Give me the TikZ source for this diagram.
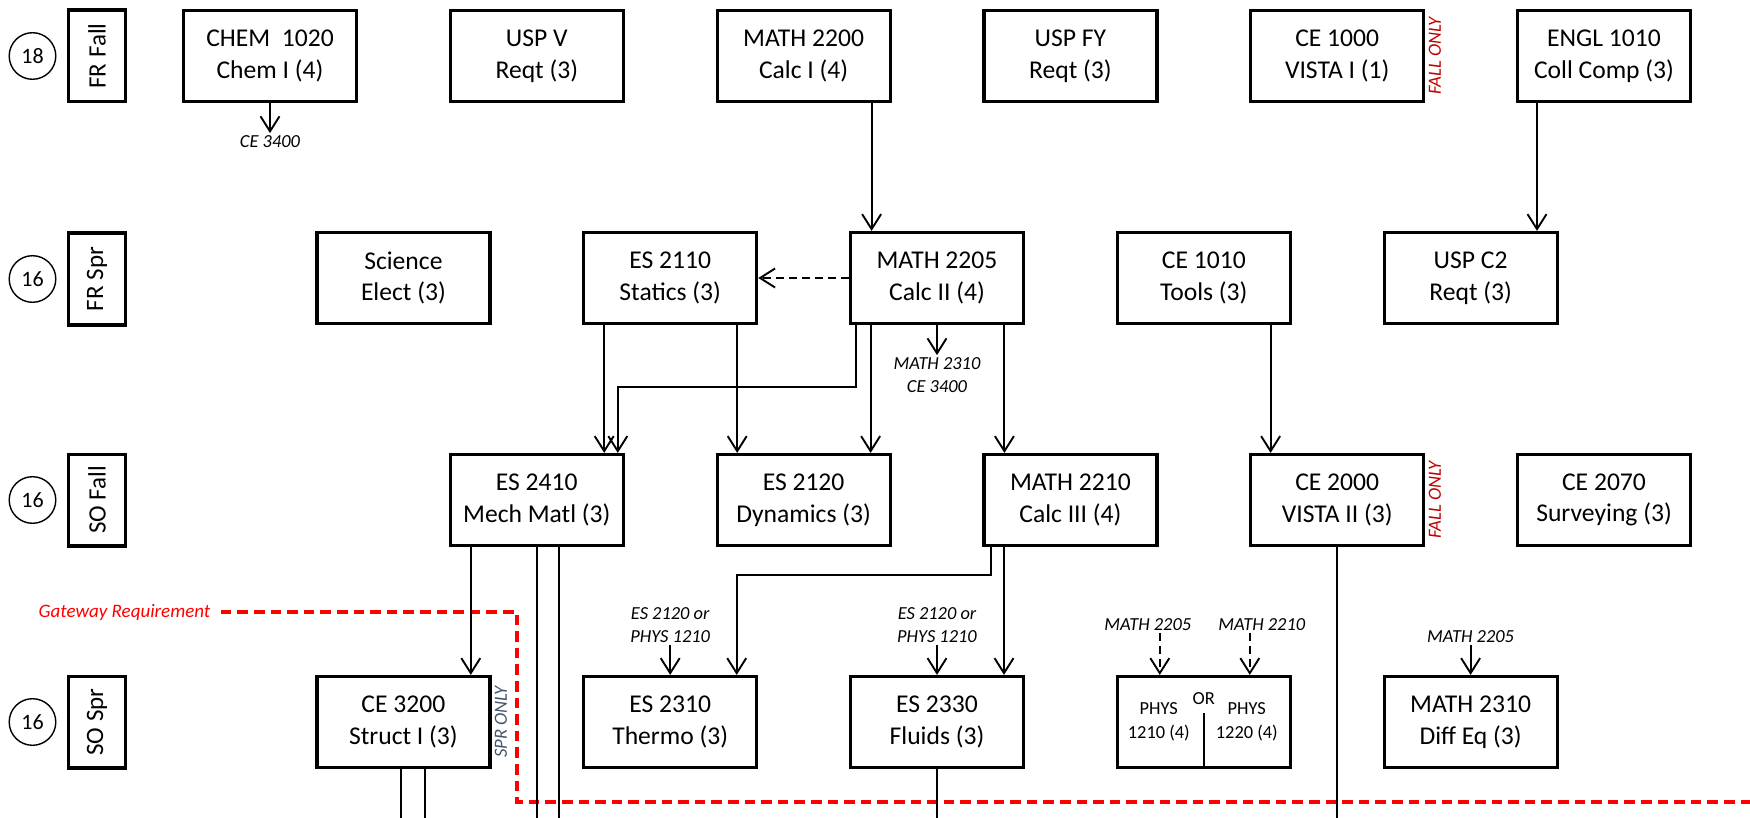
\documentclass[tikz,border=0pt]{standalone}
\usepackage{fontspec}
\setmainfont{Carlito}
\usetikzlibrary{arrows.meta,positioning}
\definecolor{fallred}{RGB}{192,0,0}
\definecolor{sprblue}{RGB}{68,84,106}
\definecolor{gatered}{RGB}{255,0,0}

\begin{document}
\begin{tikzpicture}[
    x=0.5pt, y=-0.5pt,
    node distance=63.9pt and 45.3pt,
    course/.style={rectangle, draw, line width=1.6pt, minimum width=86.5pt, minimum height=45.5pt, align=center, inner sep=0pt, font=\fontsize{12.8}{15.8}\selectfont},
    term/.style={rectangle, draw, line width=1.6pt, rotate=90, minimum width=45.9pt, minimum height=28.4pt, inner sep=0pt, font=\fontsize{12.5}{15}\selectfont},
    credit/.style={circle, draw, line width=0.7pt, minimum size=23.3pt, inner sep=0pt, font=\fontsize{11}{13}\selectfont},
    note/.style={align=center, inner sep=1pt, font=\fontsize{9.2}{11.5}\selectfont\itshape},
    physnote/.style={align=center, inner sep=1pt, font=\fontsize{9.2}{12}\selectfont},
    only/.style={rotate=90, anchor=north, inner sep=1.5pt, font=\fontsize{9.3}{11}\selectfont\itshape},
    gatenote/.style={inner sep=5pt, text=gatered, font=\fontsize{9.5}{11}\selectfont\itshape},
    arrow/.style={-{Straight Barb[length=7.5pt,width=9.5pt]}, line width=0.95pt},
    dasharrow/.style={arrow, dash pattern=on 3.8pt off 2.7pt},
    line/.style={line width=0.95pt},
    gateway/.style={gatered, line width=2pt, dash pattern=on 5.3pt off 3pt}
]
\useasboundingbox (0,0) rectangle (1750,818);
\coordinate (bottom) at (0,818);

% FR Fall
\node[credit] (crI) at (32.5,56) {18};
\node[term] (tmI) at (97,56) {FR Fall};
\node[course] (chem) at (270,56) {CHEM~~1020\\Chem I (4)};
\node[course, right=of chem] (uspv) {USP V\\Reqt (3)};
\node[course, right=of uspv] (calcI) {MATH 2200\\Calc I (4)};
\node[course, right=of calcI] (uspfy) {USP FY\\Reqt (3)};
\node[course, right=of uspfy] (vistaI) {CE 1000\\VISTA I (1)};
\node[course, right=of vistaI] (engl) {ENGL 1010\\Coll Comp (3)};
\node[only, text=fallred] (fallI) at (vistaI.east) {FALL ONLY};

% FR Spr
\node[credit] (crII) at (32.5,279) {16};
\node[term] (tmII) at (97,279) {FR Spr};
\node[course, below=of chem, xshift=66.7pt] (sci) {Science\\Elect (3)};
\node[course, right=of sci] (statics) {ES 2110\\Statics (3)};
\node[course, right=of statics] (calcII) {MATH 2205\\Calc II (4)};
\node[course, right=of calcII] (tools) {CE 1010\\Tools (3)};
\node[course, right=of tools] (uspc) {USP C2\\Reqt (3)};

% SO Fall
\node[credit] (crIII) at (32.5,500) {16};
\node[term] (tmIII) at (97,500) {SO Fall};
\node[course, below=of sci, xshift=66.7pt] (mech) {ES 2410\\Mech Matl (3)};
\node[course, right=of mech] (dyn) {ES 2120\\Dynamics (3)};
\node[course, right=of dyn] (calcIII) {MATH 2210\\Calc III (4)};
\node[course, right=of calcIII] (vistaII) {CE 2000\\VISTA II (3)};
\node[course, right=of vistaII] (survey) {CE 2070\\Surveying (3)};
\node[only, text=fallred] (fallII) at (vistaII.east) {FALL ONLY};

% SO Spr
\node[credit] (crIV) at (32.5,722) {16};
\node[term] (tmIV) at (97,722) {SO Spr};
\node[course, below=of mech, xshift=-66.7pt] (struct) {CE 3200\\Struct I (3)};
\node[course, right=of struct] (thermo) {ES 2310\\Thermo (3)};
\node[course, right=of thermo] (fluids) {ES 2330\\Fluids (3)};
\node[course, right=of fluids] (phys) {};
\node[course, right=of phys] (diffeq) {MATH 2310\\Diff Eq (3)};
\node[only, text=sprblue] (spr) at (struct.east) {SPR ONLY};
\node[physnote] (physA) at ([xshift=-22.5pt]phys.center) {PHYS\\1210 (4)};
\node[physnote] (physB) at ([xshift=21.5pt]phys.center) {PHYS\\1220 (4)};
\node[physnote] (physor) at ([yshift=11.5pt]phys.center) {OR};
\draw[line width=1pt] (phys.south) -- ([yshift=4.5pt]phys.center);

% gateway
\node[gatenote] (gate) at (124.5,612) {Gateway Requirement};
\coordinate (gateA) at (517,612);
\coordinate (gateB) at (1750,802);
\draw[gateway] (gate.east) -- (gateA) |- (gateB);

% notes
\node[note, below=15pt of chem] (chemnote) {CE 3400};
\node[note, below=15pt of calcII] (calcIInote) {MATH 2310\\CE 3400};
\node[note, above=15pt of thermo] (thermonote) {ES 2120 or\\PHYS 1210};
\node[note, above=15pt of fluids] (fluidsnote) {ES 2120 or\\PHYS 1210};
\node[note, above=15pt of diffeq] (diffeqnote) {MATH 2205};
\node[note, above=21pt of phys, xshift=-28pt] (physnoteA) {MATH 2205};
\node[note, above=21pt of phys, xshift=29pt] (physnoteB) {MATH 2210};

% arrows
\draw[arrow] (chem) -- (chemnote);
\draw[arrow] ([xshift=34pt]calcI.south) -- ([xshift=34pt]calcI.south |- calcII.north);
\draw[arrow] ([xshift=-33.5pt]engl.south) -- ([xshift=-33.5pt]engl.south |- uspc.north);
\draw[dasharrow] (calcII.west) -- (statics.east);
\draw[arrow] (calcII) -- (calcIInote);

\draw[arrow] ([xshift=-33pt]statics.south) -- ([xshift=-33pt]statics.south |- mech.north);
\draw[arrow] ([xshift=33.5pt]statics.south) -- ([xshift=33.5pt]statics.south |- dyn.north);
\draw[arrow] ([xshift=-40.7pt]calcII.south) -- ++(0pt,-31pt) -| ([xshift=40.5pt]mech.north);
\draw[arrow] ([xshift=-33.2pt]calcII.south) -- ([xshift=-33.2pt]calcII.south |- dyn.north);
\draw[arrow] ([xshift=33.7pt]calcII.south) -- ([xshift=33.7pt]calcII.south |- calcIII.north);
\draw[arrow] ([xshift=33.4pt]tools.south) -- ([xshift=33.4pt]tools.south |- vistaII.north);

\draw[arrow] ([xshift=-33pt]mech.south) -- ([xshift=-33pt]mech.south |- struct.north);
\draw[line] (mech.south) -- (mech.south |- bottom);
\draw[line] ([xshift=11.25pt]mech.south) -- ([xshift=11.25pt]mech.south |- bottom);
\draw[line] ([xshift=-1pt]struct.south) -- ([xshift=-1pt]struct.south |- bottom);
\draw[line] ([xshift=10.8pt]struct.south) -- ([xshift=10.8pt]struct.south |- bottom);
\draw[arrow] ([xshift=-39.5pt]calcIII.south) -- ++(0pt,-14pt) -| ([xshift=33.25pt]thermo.north);
\draw[arrow] ([xshift=-33.2pt]calcIII.south) -- ([xshift=-33.2pt]calcIII.south |- fluids.north);
\draw[line] (fluids.south) -- (fluids.south |- bottom);
\draw[line] (vistaII.south) -- (vistaII.south |- bottom);

\draw[arrow] (thermonote) -- (thermo);
\draw[arrow] (fluidsnote) -- (fluids);
\draw[arrow] (diffeqnote) -- (diffeq);
\draw[dasharrow] ([xshift=-22pt]phys.north |- physnoteA.south) -- ([xshift=-22pt]phys.north);
\draw[dasharrow] ([xshift=23pt]phys.north |- physnoteB.south) -- ([xshift=23pt]phys.north);
\end{tikzpicture}
\end{document}
